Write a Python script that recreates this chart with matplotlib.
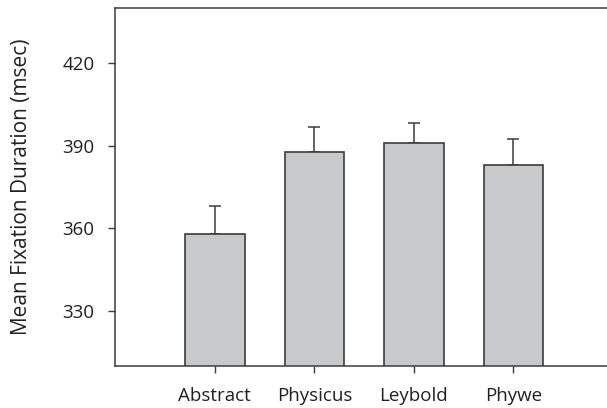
import matplotlib.pyplot as plt

# Data
categories = ["Abstract", "Physicus", "Leybold", "Phywe"]
means = [357.9, 387.9, 391.1, 383.0]
errors = [10.2, 9.1, 7.2, 9.4]
yticks = [330, 360, 390, 420]

plt.rcParams["font.family"] = ["Open Sans", "DejaVu Sans"]

fig = plt.figure(figsize=(6.07, 4.08), dpi=100)
ax = fig.add_axes([0.19, 0.1037, 0.81, 0.876])

dark = "#3c3c3c"
x = range(len(categories))

ax.bar(x, means, width=0.6, color="#c8c9cb", edgecolor=dark, linewidth=1.2, zorder=2)
ax.errorbar(x, means, yerr=[[0] * len(errors), errors], fmt="none",
            ecolor=dark, elinewidth=1.1, capsize=4.5, capthick=1.1, zorder=1)

ax.set_xlim(-1, 3.94)
ax.set_ylim(310, 440)
ax.set_yticks(yticks)
ax.set_xticks(list(x))
ax.set_xticklabels(categories)

ax.spines["right"].set_visible(False)
for side in ["left", "bottom", "top"]:
    ax.spines[side].set_color(dark)
    ax.spines[side].set_linewidth(1.1)

ax.tick_params(axis="both", direction="out", length=5, width=1, color=dark,
               labelsize=13.5, labelcolor="#231f20")
ax.tick_params(axis="y", pad=10)
ax.tick_params(axis="x", pad=10)

ax.set_ylabel("Mean Fixation Duration (msec)", fontsize=15, color="#231f20", labelpad=22)

fig.savefig("out.png", dpi=100)
